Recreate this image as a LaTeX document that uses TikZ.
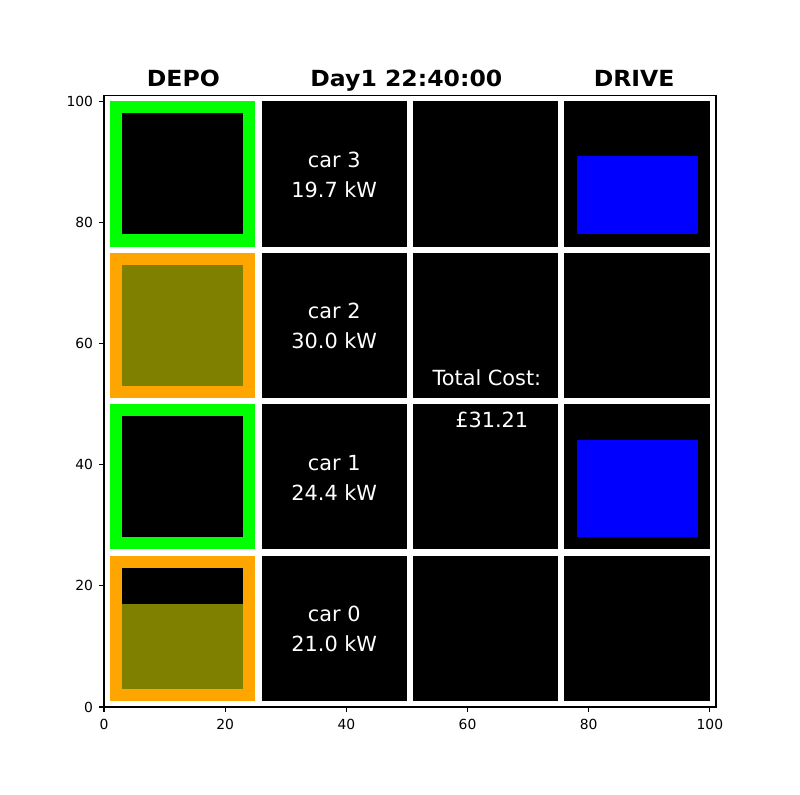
\documentclass[tikz,border=0pt]{standalone}
\usepackage{fontspec}
\setmainfont{DejaVu Sans}
\definecolor{lime}{HTML}{00FF00}
\definecolor{mplorange}{HTML}{FFA500}
\definecolor{mplolive}{HTML}{808000}
\definecolor{mplblue}{HTML}{0000FF}
\newcommand{\wtitle}[1]{\scalebox{1.06}[1]{#1}}
\begin{document}
\begin{tikzpicture}[x=4.3628pt,y=4.3628pt,
  cell/.style={fill=black},
  celltext/.style={text=white,font=\fontsize{15}{18}\selectfont,anchor=base,inner sep=0pt},
  titletext/.style={font=\fontsize{16}{19}\selectfont\bfseries,anchor=base,inner sep=0pt},
  ticklab/.style={font=\fontsize{10}{12}\selectfont,inner sep=0pt},
  tickmark/.style={line width=0.8pt}]
\useasboundingbox (-17.164,-14.36) rectangle (114.87,116.69);
% cells
\foreach \i in {0,1,2,3}{
  \foreach \j in {0,1,2,3}{
    \fill[cell] ({25*\i+1},{25*\j+1}) rectangle ({25*\i+25},{25*\j+25});
  }
}
% DEPO column
\fill[lime] (1,76) rectangle (25,100);
\fill[mplorange] (1,51) rectangle (25,75);
\fill[lime] (1,26) rectangle (25,50);
\fill[mplorange] (1,1) rectangle (25,25);
\foreach \j in {0,1,2,3}{
  \fill[black] (3,{25*\j+3}) rectangle (23,{25*\j+23});
}
\fill[mplolive] (3,53) rectangle (23,73);
\fill[mplolive] (3,3) rectangle (23,17);
% DRIVE column
\fill[mplblue] (78,78) rectangle (98,91);
\fill[mplblue] (78,28) rectangle (98,44);
% car labels
\node[celltext] (c3a) at (38,89.07) {car 3};
\node[celltext] (c3b) at (38,84.12) {19.7 kW};
\node[celltext] (c2a) at (38,64.07) {car 2};
\node[celltext] (c2b) at (38,59.12) {30.0 kW};
\node[celltext] (c1a) at (38,39.07) {car 1};
\node[celltext] (c1b) at (38,34.12) {24.4 kW};
\node[celltext] (c0a) at (38,14.07) {car 0};
\node[celltext] (c0b) at (38,9.12) {21.0 kW};
\node[celltext] (tc) at (63.2,53.03) {Total Cost:};
\node[celltext] (tcv) at (64.0,46.1) {£31.21};
% titles
\node[titletext] (t1) at (13.1,102.4) {\wtitle{DEPO}};
\node[titletext] (t2) at (49.9,102.4) {\wtitle{Day1 22:40:00}};
\node[titletext] (t3) at (87.5,102.4) {\wtitle{DRIVE}};
% axes frame
\draw[line width=0.8pt] (0,0) rectangle (101,101);
% ticks
\foreach \v in {0,20,40,60,80,100}{
  \draw[tickmark] (\v,0) -- ++(0,-3.5pt);
  \node[ticklab,anchor=north] (xl\v) at ([yshift=-8.4pt]\v,0) {\v};
  \draw[tickmark] (0,\v) -- ++(-3.5pt,0);
  \node[ticklab,anchor=east] (yl\v) at ([xshift=-7.7pt]0,\v) {\v};
}
\end{tikzpicture}
\end{document}
